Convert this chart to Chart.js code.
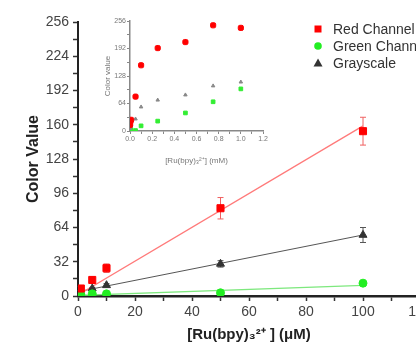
<!DOCTYPE html>
<html>
<head>
<meta charset="utf-8">
<script src="https://cdn.jsdelivr.net/npm/chart.js@4.4.1/dist/chart.umd.min.js"></script>
<style>
html, body { margin: 0; padding: 0; background: #fff; overflow: hidden; width: 416px; height: 348px; }
#wrap { position: relative; width: 440px; height: 348px; }
#mainChart { position: absolute; left: 0; top: 0; }
#insetChart { position: absolute; left: 95px; top: 5px; }
</style>
</head>
<body>
<div id="wrap">
    <canvas id="mainChart" width="440" height="348"></canvas>
    <canvas id="insetChart" width="180" height="165"></canvas>
</div>
<script>
// main plot, concentration in uM
const concUM = [1, 5, 10, 50, 100];
const redValues = [7, 15, 26, 82, 154];
const redErrors = [2, 3, 4, 10, 13];
const greenValues = [1, 2, 2, 3, 12];
const greenErrors = [0.5, 0.5, 0.5, 1, 1];
const grayValues = [4, 7, 10, 30, 57];
const grayErrors = [1, 1, 1.5, 3, 7];

// linear fits (end points)
const fitX = [0, 100];
const redFit = [1, 159];
const greenFit = [0.5, 10];
const grayFit = [4, 57];

const seriesNames = ['Red Channel', 'Green Channel', 'Grayscale'];

// inset, concentration in mM
const insetConc = [0.001, 0.005, 0.01, 0.05, 0.1, 0.25, 0.5, 0.75, 1.0];
const insetRed = [14, 22, 26, 80, 153, 193, 207, 246, 240];
const insetGreen = [4, 2, 3, 1, 12, 23, 42, 68, 98];
const insetGray = [6, 10, 14, 28, 56, 72, 84, 105, 114];

const yTicksMain = [0, 32, 64, 96, 128, 160, 192, 224, 256];
const xTicksMain = [0, 20, 40, 60, 80, 100, 120];

const toPoints = (xs, ys) => xs.map((x, i) => ({ x: x, y: ys[i] }));

const errorBarPlugin = {
    id: 'errorBars',
    beforeDatasetsDraw(chart) {
        const ctx = chart.ctx;
        const xs = chart.scales.x;
        const ys = chart.scales.y;
        chart.data.datasets.forEach(ds => {
            if (!ds.errorBars) return;
            ctx.save();
            ctx.strokeStyle = ds.errorColor;
            ctx.lineWidth = 1;
            ds.data.forEach((p, i) => {
                const e = ds.errorBars[i];
                const px = xs.getPixelForValue(p.x);
                const top = ys.getPixelForValue(p.y + e);
                const bot = ys.getPixelForValue(p.y - e);
                ctx.beginPath();
                ctx.moveTo(px, top); ctx.lineTo(px, bot);
                ctx.moveTo(px - 3, top); ctx.lineTo(px + 3, top);
                ctx.moveTo(px - 3, bot); ctx.lineTo(px + 3, bot);
                ctx.stroke();
            });
            ctx.restore();
        });
    }
};

const legendPlugin = {
    id: 'sideLegend',
    afterDraw(chart) {
        const ctx = chart.ctx;
        const items = chart.data.datasets.filter(ds => ds.legendName);
        ctx.save();
        ctx.font = '14px "Liberation Sans", Arial, sans-serif';
        ctx.textBaseline = 'middle';
        items.forEach((ds, i) => {
            const cx = 318;
            const cy = 29 + i * 17;
            ctx.fillStyle = ds.backgroundColor;
            ctx.beginPath();
            if (ds.pointStyle === 'rect') {
                ctx.rect(cx - 3.5, cy - 3.5, 7, 7);
            } else if (ds.pointStyle === 'circle') {
                ctx.arc(cx, cy, 3.8, 0, Math.PI * 2);
            } else {
                ctx.moveTo(cx, cy - 4.5);
                ctx.lineTo(cx + 4.5, cy + 3.5);
                ctx.lineTo(cx - 4.5, cy + 3.5);
                ctx.closePath();
            }
            ctx.fill();
            ctx.fillStyle = '#333';
            ctx.fillText(ds.legendName, 333, cy + 1);
        });
        ctx.restore();
    }
};

const axisFont = { family: '"Liberation Sans", Arial, sans-serif', size: 14 };

new Chart(document.getElementById('mainChart'), {
    type: 'scatter',
    data: {
        datasets: [
            {
                data: toPoints(fitX, redFit), showLine: true, pointRadius: 0,
                borderColor: '#ff7a7a', borderWidth: 1.3, order: 2
            },
            {
                data: toPoints(fitX, grayFit), showLine: true, pointRadius: 0,
                borderColor: '#555', borderWidth: 1, order: 2
            },
            {
                data: toPoints(fitX, greenFit), showLine: true, pointRadius: 0,
                borderColor: '#7ee87e', borderWidth: 1.3, order: 2
            },
            {
                legendName: seriesNames[0],
                data: toPoints(concUM, redValues), errorBars: redErrors, errorColor: '#f06060',
                pointStyle: 'rect', pointRadius: 5, backgroundColor: '#ff0000', borderColor: '#ff0000', order: 1
            },
            {
                legendName: seriesNames[1],
                data: toPoints(concUM, greenValues), errorBars: greenErrors, errorColor: '#40d040',
                pointStyle: 'circle', pointRadius: 4, backgroundColor: '#22ee22', borderColor: '#22ee22', order: 1
            },
            {
                legendName: seriesNames[2],
                data: toPoints(concUM, grayValues), errorBars: grayErrors, errorColor: '#555',
                pointStyle: 'triangle', pointRadius: 4.6, backgroundColor: '#333', borderColor: '#333', order: 1
            }
        ]
    },
    options: {
        responsive: false,
        animation: false,
        layout: { padding: { left: 20, top: 22, right: 20, bottom: 0 } },
        plugins: { legend: { display: false }, tooltip: { enabled: false } },
        scales: {
            x: {
                type: 'linear', min: 0, max: 120,
                afterBuildTicks: s => { s.ticks = []; for (let v = 0; v <= 120; v += 10) s.ticks.push({ value: v }); },
                ticks: {
                    autoSkip: false, maxRotation: 0, color: '#444', font: axisFont, padding: 3,
                    callback: v => xTicksMain.includes(v) ? v : ''
                },
                grid: { drawOnChartArea: false, tickLength: 5, color: '#333', tickWidth: 1.5 },
                border: { color: '#222', width: 2.5 },
                title: {
                    display: true, text: '[Ru(bpy)₃²⁺ ] (μM)', color: '#222',
                    font: { family: '"Liberation Sans", Arial, sans-serif', size: 15, weight: 'bold' },
                    padding: { top: 8 }
                },
                afterFit: s => { s.height = 52; }
            },
            y: {
                type: 'linear', min: 0, max: 256,
                afterBuildTicks: s => { s.ticks = []; for (let v = 0; v <= 256; v += 16) s.ticks.push({ value: v }); },
                ticks: {
                    autoSkip: false, color: '#444', font: axisFont, padding: 4,
                    callback: v => yTicksMain.includes(v) ? v : ''
                },
                grid: { drawOnChartArea: false, tickLength: 5, color: '#333', tickWidth: 1.5 },
                border: { color: '#222', width: 2 },
                title: {
                    display: true, text: 'Color Value', color: '#222',
                    font: { family: '"Liberation Sans", Arial, sans-serif', size: 16, weight: 'bold' },
                    padding: { bottom: 6 }
                },
                afterFit: s => { s.width = 58; }
            }
        }
    },
    plugins: [errorBarPlugin, legendPlugin]
});

const insetFont = { family: '"Liberation Sans", Arial, sans-serif', size: 7 };

new Chart(document.getElementById('insetChart'), {
    type: 'scatter',
    data: {
        datasets: [
            {
                data: toPoints(insetConc, insetRed),
                pointStyle: 'rectRounded', pointRadius: 3, backgroundColor: '#ff0000', borderColor: '#ff0000'
            },
            {
                data: toPoints(insetConc, insetGray),
                pointStyle: 'triangle', pointRadius: 2, backgroundColor: '#888', borderColor: '#888'
            },
            {
                data: toPoints(insetConc, insetGreen),
                pointStyle: 'rect', pointRadius: 2.6, backgroundColor: '#33ee33', borderColor: '#33ee33'
            }
        ]
    },
    options: {
        responsive: false,
        animation: false,
        layout: { padding: { left: 4, top: 16, right: 12, bottom: 0 } },
        plugins: { legend: { display: false }, tooltip: { enabled: false } },
        scales: {
            x: {
                type: 'linear', min: 0, max: 1.2,
                afterBuildTicks: s => { s.ticks = []; for (let i = 0; i <= 12; i++) s.ticks.push({ value: i / 10 }); },
                ticks: {
                    autoSkip: false, maxRotation: 0, color: '#777', font: insetFont, padding: 1,
                    callback: v => (Math.round(v * 10) % 2 === 0) ? v.toFixed(1) : ''
                },
                grid: { drawOnChartArea: false, tickLength: 3, color: '#888' },
                border: { color: '#888', width: 1.5 },
                title: {
                    display: true, text: '[Ru(bpy)₃²⁺] (mM)', color: '#777',
                    font: { family: '"Liberation Sans", Arial, sans-serif', size: 8 },
                    padding: { top: 3 }
                },
                afterFit: s => { s.height = 39; }
            },
            y: {
                type: 'linear', min: 0, max: 256,
                afterBuildTicks: s => { s.ticks = []; for (let v = 0; v <= 256; v += 32) s.ticks.push({ value: v }); },
                ticks: {
                    autoSkip: false, color: '#777', font: insetFont, padding: 1,
                    callback: v => v % 64 === 0 ? v : ''
                },
                grid: { drawOnChartArea: false, tickLength: 3, color: '#888' },
                border: { color: '#888', width: 1.5 },
                title: {
                    display: true, text: 'Color value', color: '#777',
                    font: { family: '"Liberation Sans", Arial, sans-serif', size: 8 },
                    padding: { bottom: 2 }
                },
                afterFit: s => { s.width = 31; }
            }
        }
    }
});
</script>
</body>
</html>
